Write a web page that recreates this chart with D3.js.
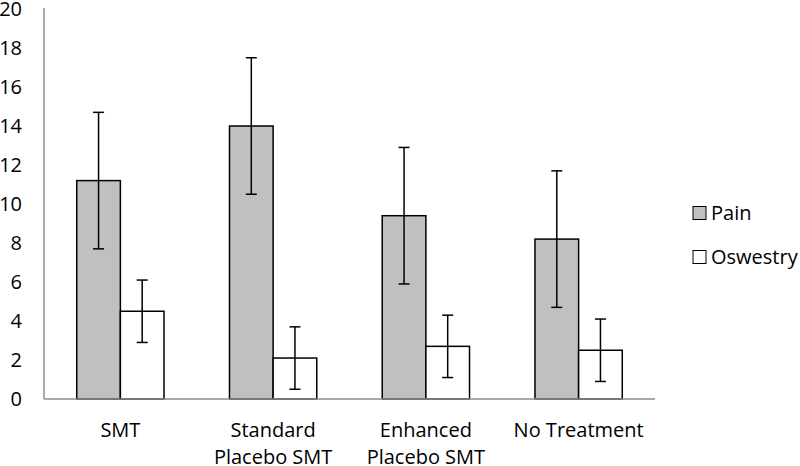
<!DOCTYPE html>
<html><head><meta charset="utf-8">
<script src="https://cdn.jsdelivr.net/npm/d3@7"></script>
<style>html,body{margin:0;padding:0;background:#fff;}</style>
</head><body><svg id="c" width="800" height="466"></svg>
<script>
const categories = [["SMT"], ["Standard","Placebo SMT"], ["Enhanced","Placebo SMT"], ["No Treatment"]];
const seriesNames = ["Pain", "Oswestry"];
const painValues = [11.2, 14.0, 9.4, 8.2];
const painErrors = [3.5, 3.5, 3.5, 3.5];
const oswValues = [4.5, 2.1, 2.7, 2.5];
const oswErrors = [1.6, 1.6, 1.6, 1.6];
const yTicks = [0,2,4,6,8,10,12,14,16,18,20];
const fills = ["#c0c0c0", "#ffffff"];

(function(){
const font = "'Open Sans', sans-serif";
const fs = 20;
const svg = d3.select("#c");
const pLeft = 44, pRight = 655, pTop = 9, pBottom = 399;

const x0 = d3.scaleBand().domain(d3.range(categories.length)).range([pLeft, pRight]).paddingInner(0.4286).paddingOuter(0.2143);
const x1 = d3.scaleBand().domain(seriesNames).range([0, x0.bandwidth()]);
const y = d3.scaleLinear().domain([0, 20]).range([pBottom, pTop]);

const series = [
  {name: "Pain", values: painValues, errors: painErrors, fill: fills[0]},
  {name: "Oswestry", values: oswValues, errors: oswErrors, fill: fills[1]}
];

svg.append("g").selectAll("text").data(yTicks).join("text")
  .attr("x", 22).attr("y", d => y(d)).attr("dy", "0.36em")
  .attr("text-anchor", "end").attr("font-family", font).attr("font-size", fs).attr("fill", "#000")
  .text(d => d);

series.forEach(s => {
  svg.append("g").selectAll("rect").data(s.values).join("rect")
    .attr("x", (d,i) => x0(i) + x1(s.name))
    .attr("y", d => y(d))
    .attr("width", x1.bandwidth())
    .attr("height", d => y(0) - y(d))
    .attr("fill", s.fill).attr("stroke", "#000").attr("stroke-width", 1.5);
});

svg.append("line").attr("x1", pLeft).attr("x2", pLeft).attr("y1", y(20) - 1).attr("y2", y(0))
  .attr("stroke", "#8c8c8c").attr("stroke-width", 1.5);
svg.append("line").attr("x1", pLeft).attr("x2", pRight).attr("y1", y(0)).attr("y2", y(0))
  .attr("stroke", "#8c8c8c").attr("stroke-width", 1.5);

series.forEach(s => {
  const g = svg.append("g");
  s.values.forEach((v, i) => {
    const cx = x0(i) + x1(s.name) + x1.bandwidth() / 2;
    const e = s.errors[i];
    g.append("line").attr("x1", cx).attr("x2", cx).attr("y1", y(v + e)).attr("y2", y(v - e))
      .attr("stroke", "#000").attr("stroke-width", 1.5);
    [v + e, v - e].forEach(t => {
      g.append("line").attr("x1", cx - 5.5).attr("x2", cx + 5.5).attr("y1", y(t)).attr("y2", y(t))
        .attr("stroke", "#000").attr("stroke-width", 1.5);
    });
  });
});

categories.forEach((lines, i) => {
  const cx = x0(i) + x0.bandwidth() / 2;
  const t = svg.append("text").attr("x", cx).attr("y", 430).attr("text-anchor", "middle")
    .attr("font-family", font).attr("font-size", fs).attr("fill", "#000");
  lines.forEach((ln, j) => {
    t.append("tspan").attr("x", cx).attr("dy", j === 0 ? "0.36em" : 27).text(ln);
  });
});

series.forEach((s, i) => {
  const ly = 213 + i * 44;
  svg.append("rect").attr("x", 693).attr("y", ly - 6.5).attr("width", 13).attr("height", 13)
    .attr("fill", s.fill).attr("stroke", "#000").attr("stroke-width", 1);
  svg.append("text").attr("x", 711).attr("y", ly).attr("dy", "0.36em")
    .attr("font-family", font).attr("font-size", fs).attr("fill", "#000").text(s.name);
});
})();
</script></body></html>
